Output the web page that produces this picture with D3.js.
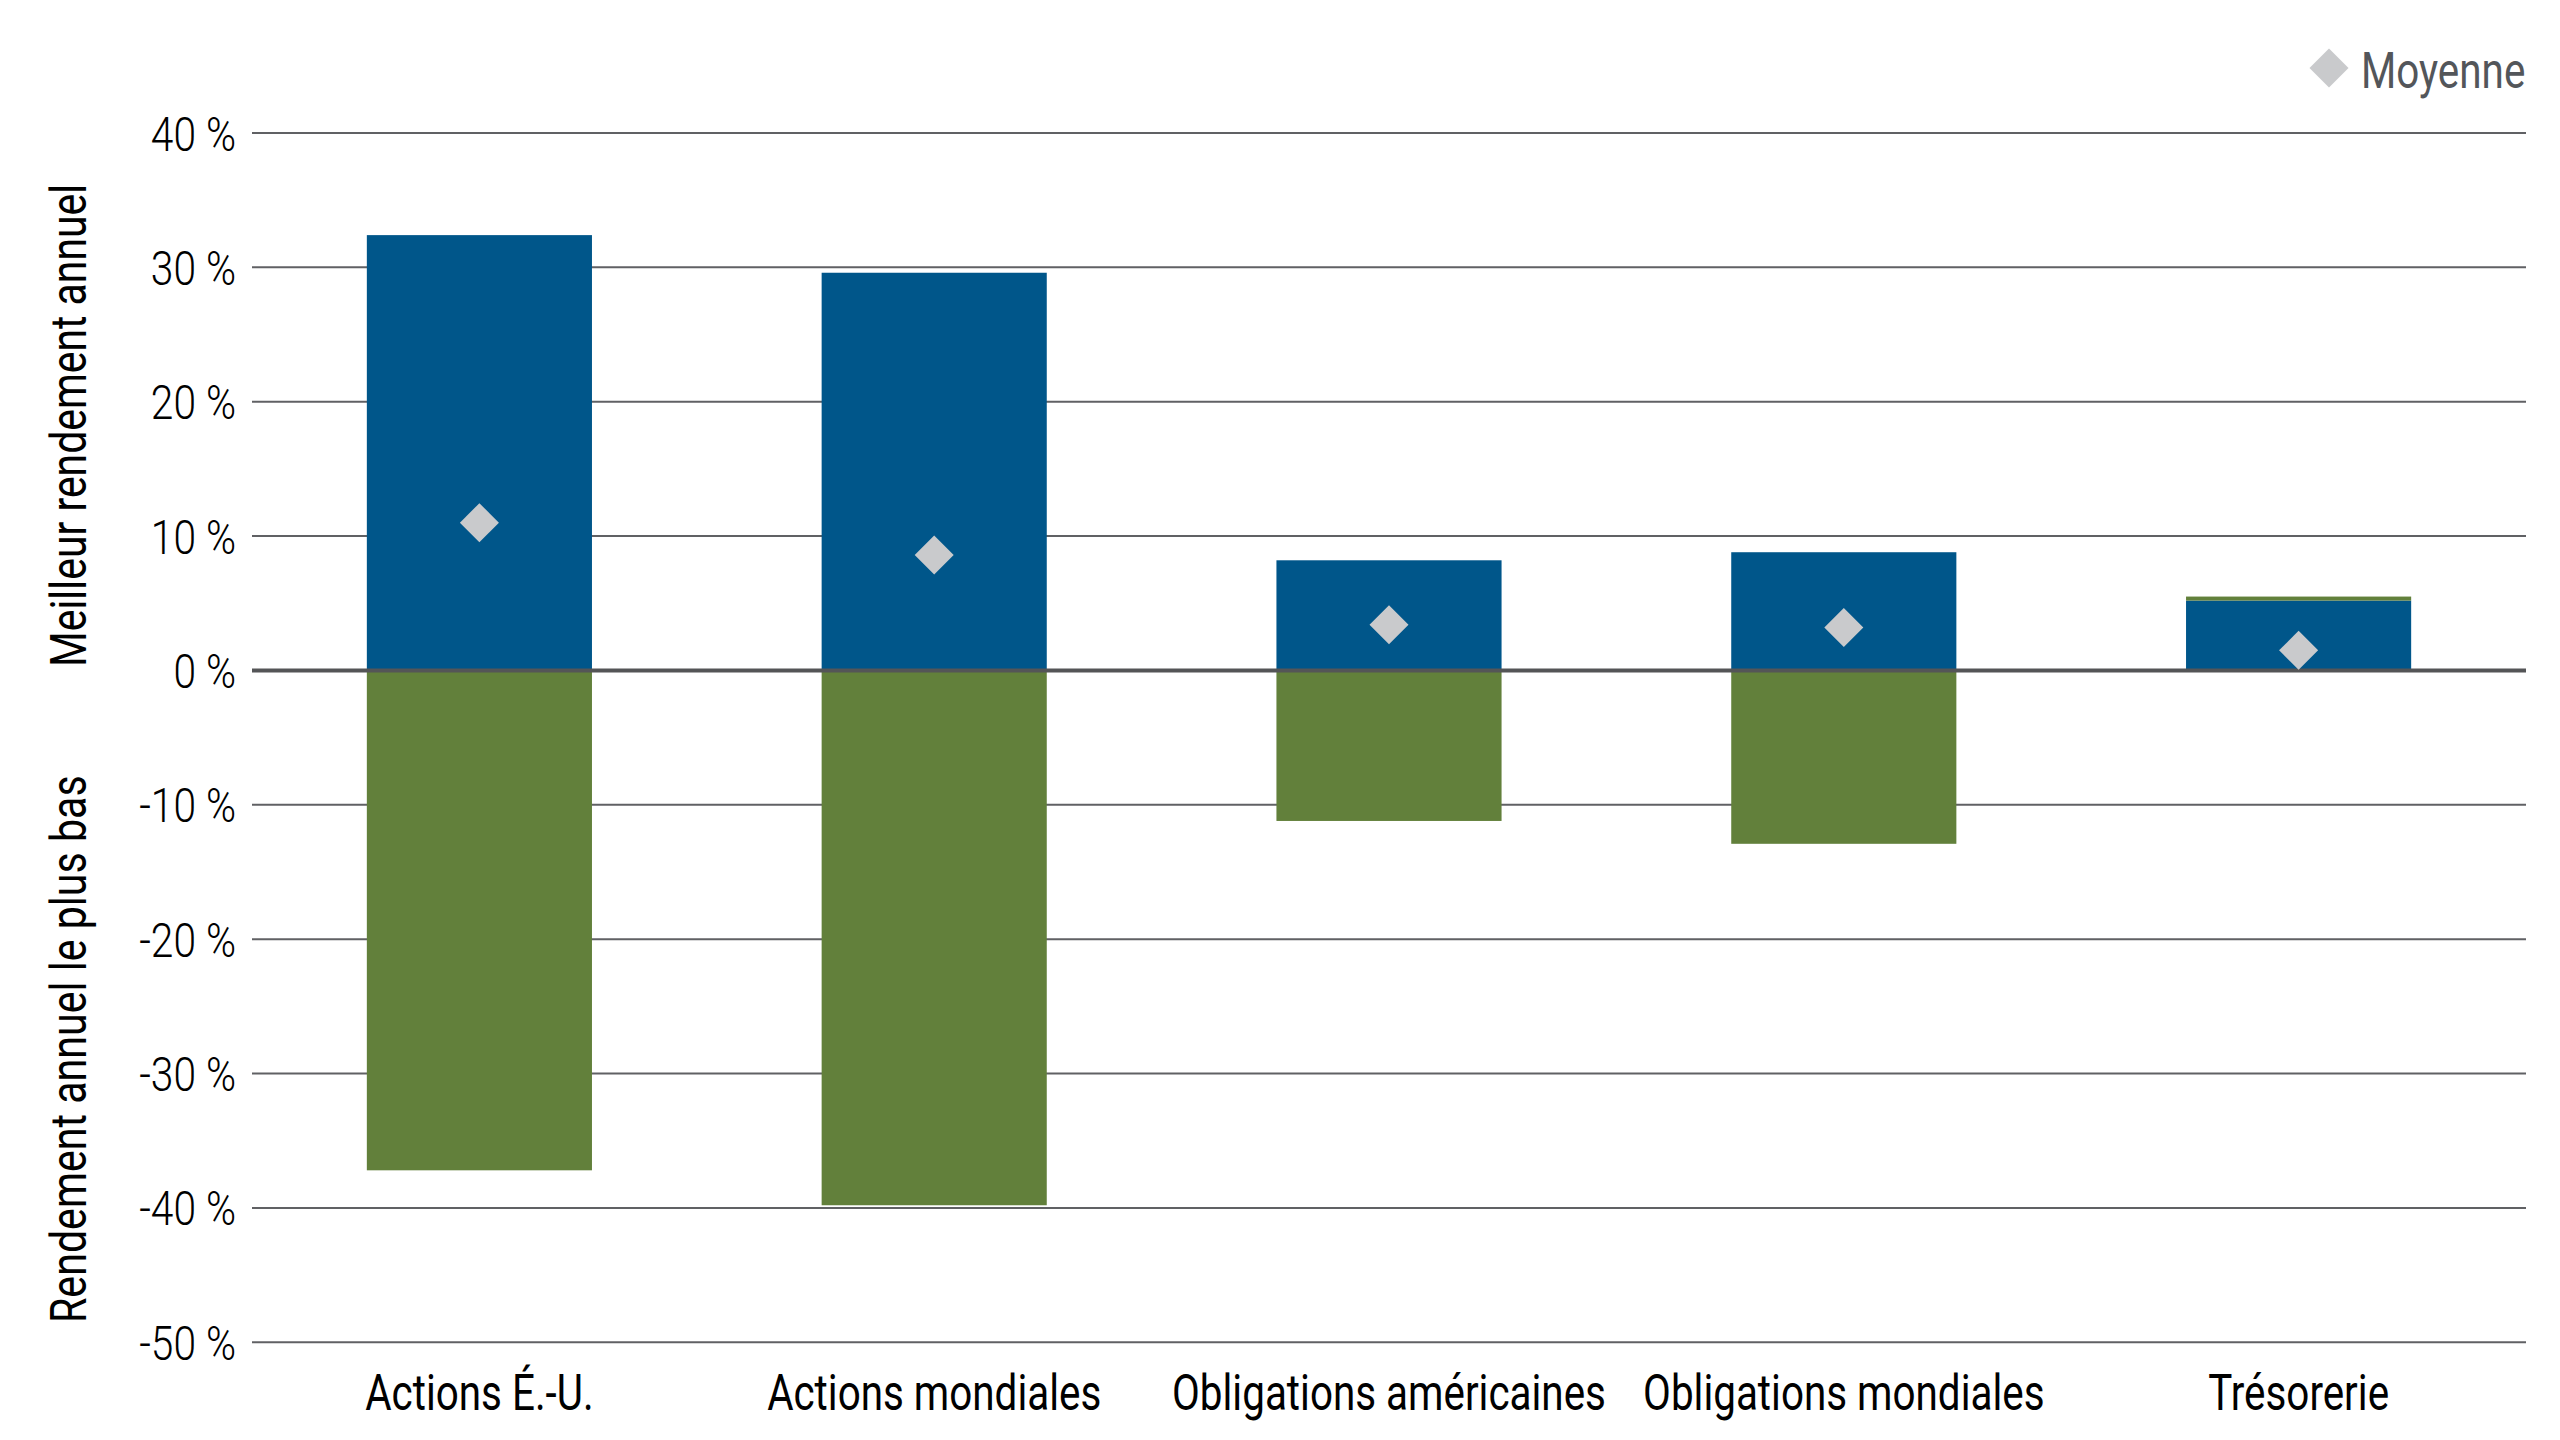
<!DOCTYPE html>
<html>
<head>
<meta charset="utf-8">
<script src="https://cdn.jsdelivr.net/npm/d3@7"></script>
<style>
  html, body { margin: 0; padding: 0; background: #ffffff; }
  svg { display: block; }
  text { font-family: Roboto, "Noto Sans", sans-serif; }
</style>
</head>
<body>
<script>
// ---- data ----
const categories = ["Actions É.-U.", "Actions mondiales", "Obligations américaines", "Obligations mondiales", "Trésorerie"];
const bestReturn = [32.4, 29.6, 8.2, 8.8, 5.2];
const lowestReturn = [-37.2, -39.8, -11.2, -12.9, 0.3];
const averageReturn = [11.0, 8.6, 3.4, 3.2, 1.5];
const yTicks = [-50, -40, -30, -20, -10, 0, 10, 20, 30, 40];
const yTickLabels = ["-50 %", "-40 %", "-30 %", "-20 %", "-10 %", "0 %", "10 %", "20 %", "30 %", "40 %"];
const titleTop = "Meilleur rendement annuel";
const titleBottom = "Rendement annuel le plus bas";
const legendLabel = "Moyenne";

// ---- layout ----
const W = 2560, H = 1440;
const plotLeft = 252, plotRight = 2526;
const colBest = "#00568a", colLow = "#62803b", colAvg = "#c9cacc";
const gridCol = "#606164", zeroCol = "#545557";

const svg = d3.select("body").append("svg").attr("width", W).attr("height", H);
svg.append("rect").attr("width", W).attr("height", H).attr("fill", "#fff");

const y = d3.scaleLinear().domain([-50, 40]).range([1342.3, 133]);
const x = d3.scaleBand().domain(categories).range([plotLeft, plotRight])
  .paddingInner(0.505).paddingOuter(0.2525);

function condText(g, tx, ty, rot, str, opts) {
  const grp = g.append("g")
    .attr("transform", `translate(${tx},${ty}) rotate(${rot}) scale(${opts.cond || 0.8},1)`);
  return grp.append("text")
    .attr("x", 0).attr("y", 0)
    .attr("text-anchor", opts.anchor || "start")
    .attr("font-size", opts.size)
    .attr("font-weight", opts.weight || 400)
    .attr("fill", opts.fill || "#000")
    .text(str);
}

// gridlines
svg.append("g").selectAll("line").data(yTicks.filter(d => d !== 0)).join("line")
  .attr("x1", plotLeft).attr("x2", plotRight)
  .attr("y1", d => y(d)).attr("y2", d => y(d))
  .attr("stroke", gridCol).attr("stroke-width", 2);

// y tick labels
const yl = svg.append("g");
yTicks.forEach((t, i) => {
  condText(yl, 236, y(t) + 17.5, 0, yTickLabels[i], {anchor: "end", size: 48.5, weight: 300, cond: 0.84});
});

// bars
const rows = categories.map((c, i) => ({c, best: bestReturn[i], low: lowestReturn[i], avg: averageReturn[i]}));
svg.append("g").selectAll("rect").data(rows).join("rect")
  .attr("x", d => x(d.c)).attr("width", x.bandwidth())
  .attr("y", d => y(Math.max(0, d.best)))
  .attr("height", d => Math.abs(y(0) - y(d.best)))
  .attr("fill", colBest);

svg.append("g").selectAll("rect").data(rows).join("rect")
  .attr("x", d => x(d.c)).attr("width", x.bandwidth())
  .attr("y", d => d.low >= 0 ? y(d.best + d.low) : y(0))
  .attr("height", d => d.low >= 0 ? (y(d.best) - y(d.best + d.low)) : (y(d.low) - y(0)))
  .attr("fill", colLow);

// zero line
svg.append("line")
  .attr("x1", plotLeft).attr("x2", plotRight)
  .attr("y1", y(0)).attr("y2", y(0))
  .attr("stroke", zeroCol).attr("stroke-width", 4);

// average diamonds
const diamond = d3.symbol().type(d3.symbolSquare).size(27.6 * 27.6);
svg.append("g").selectAll("path").data(rows).join("path")
  .attr("d", diamond)
  .attr("transform", d => `translate(${x(d.c) + x.bandwidth() / 2},${y(d.avg)}) rotate(45)`)
  .attr("fill", colAvg);

// x labels
const xl = svg.append("g");
categories.forEach(c => {
  condText(xl, x(c) + x.bandwidth() / 2, 1410, 0, c, {anchor: "middle", size: 50.5});
});

// axis titles
condText(svg, 86, 667, -90, titleTop, {anchor: "start", size: 50.5, cond: 0.81});
condText(svg, 86, 1323, -90, titleBottom, {anchor: "start", size: 50.5, cond: 0.815});

// legend
svg.append("path").attr("d", diamond)
  .attr("transform", "translate(2329,68) rotate(45)")
  .attr("fill", colAvg);
condText(svg, 2361, 88, 0, legendLabel, {anchor: "start", size: 50.5, fill: "#53565a"});
</script>
</body>
</html>
